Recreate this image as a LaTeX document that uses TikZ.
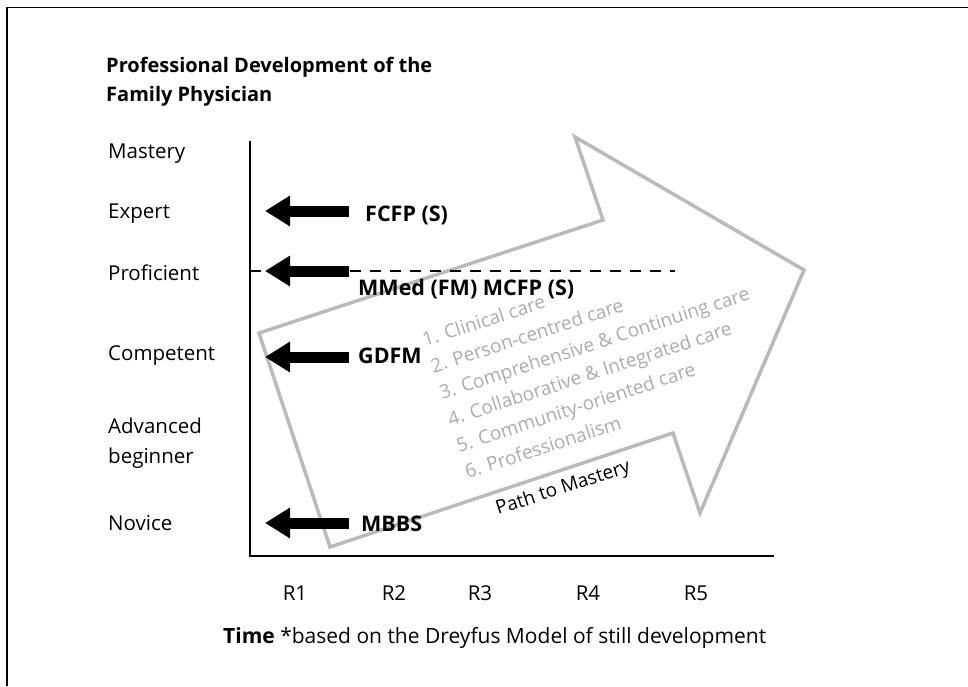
\documentclass[tikz,border=0pt]{standalone}
\usepackage{fontspec}
\setmainfont{Open Sans}
\usetikzlibrary{arrows.meta}

\begin{document}
\begin{tikzpicture}[x=1pt, y=-1pt, font=\fontsize{20.5}{24}\selectfont, >={Triangle[length=25pt,width=29pt]}]
      \tikzstyle{stage}=[anchor=base west, inner sep=0pt]
      \tikzstyle{qual}=[anchor=base west, inner sep=0pt, font=\fontsize{21.5}{24}\selectfont\bfseries]
      \tikzstyle{pointer}=[->, line width=11pt]
      \tikzstyle{pathbox}=[draw=black!27, line width=3.5pt]
      \tikzstyle{duty}=[anchor=base west, inner sep=0pt, rotate=18, text=black!33, font=\fontsize{19}{21}\selectfont]
      \tikzstyle{yearlbl}=[anchor=base, inner sep=0pt]
      \useasboundingbox (0,0) rectangle (968,686);
      % frame
      \draw[line width=1.6pt] (7,686) -- (7,7.5) -- (968,7.5);
      % title
      \node[qual, font=\fontsize{20}{24}\selectfont\bfseries] (title1) at (106,72) {Professional Development of the};
      \node[qual, font=\fontsize{20}{24}\selectfont\bfseries] (title2) at (106,101) {Family Physician};
      % path to mastery
      \draw[pathbox] (330,547) -- (259,333) -- (603,220) -- (575,137)
        -- (804,270) -- (700,513) -- (673,433) -- cycle;
      \foreach \txt [count=\i from 0] in {1. Clinical care, 2. Person-centred care,
        3. Comprehensive \& Continuing care, 4. Collaborative \& Integrated care,
        5. Community-oriented care, 6. Professionalism}
        \node[duty] (duty\i) at ({425+8.5*\i},{347+26.4*\i}) {\txt};
      \node[duty, text=black] (pathname) at (498,515) {Path to Mastery};
      % axes
      \coordinate (top) at (250,141);
      \coordinate (origin) at (250,556);
      \coordinate (right) at (774,556);
      \draw[line width=2.8pt] (top) -- (origin) -- (right);
      \coordinate (dash-a) at (250,271);
      \coordinate (dash-b) at (675,271);
      \draw[line width=2.8pt, dash pattern=on 11pt off 9pt] (dash-a) -- (dash-b);
      % stages
      \node[stage] (mastery) at (108,158) {Mastery};
      \node[stage] (expert) at (108,218) {Expert};
      \node[stage] (proficient) at (108,280) {Proficient};
      \node[stage] (competent) at (108,360) {Competent};
      \node[stage] (advanced) at (108,433) {Advanced};
      \node[stage] (beginner) at (108,463) {beginner};
      \node[stage] (novice) at (108,530) {Novice};
      % qualifications
      \foreach \nm/\y in {expert/211, proficient/271, competent/357, novice/523} {
        \coordinate (\nm-tail) at (349,\y);
        \coordinate (\nm-tip) at (265,\y);
        \draw[pointer] (\nm-tail) -- (\nm-tip);
      }
      \node[qual] (fcfp) at (365,221) {FCFP (S)};
      \node[qual] (mmed) at (358,295) {MMed (FM) MCFP (S)};
      \node[qual] (gdfm) at (358,363) {GDFM};
      \node[qual] (mbbs) at (361,531) {MBBS};
      % time
      \node[yearlbl] (r1) at (295,600) {R1};
      \node[yearlbl] (r2) at (394,600) {R2};
      \node[yearlbl] (r3) at (480,600) {R3};
      \node[yearlbl] (r4) at (588,600) {R4};
      \node[yearlbl] (r5) at (696,600) {R5};
      \node[stage, font=\fontsize{21}{24}\selectfont] (caption) at (223,643) {\textbf{Time} *based on the Dreyfus Model of still development};
\end{tikzpicture}
\end{document}
